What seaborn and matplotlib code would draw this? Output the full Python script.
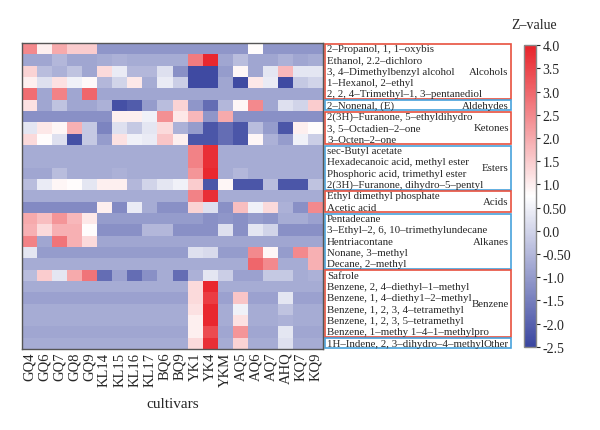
import numpy as np
import pandas as pd
import matplotlib
matplotlib.use("Agg")
import matplotlib.pyplot as plt
import matplotlib.transforms as mtransforms
from matplotlib.colors import LinearSegmentedColormap
from matplotlib.patches import Rectangle
import seaborn as sns

sns.set_style("white")
plt.rcParams["font.family"] = ["Liberation Serif", "DejaVu Serif"]

cultivars = ["GQ4", "GQ6", "GQ7", "GQ8", "GQ9", "KL14", "KL15", "KL16", "KL17", "BQ6",
             "BQ9", "YK1", "YK4", "YKM", "AQ5", "AQ6", "AQ7", "AHQ", "KQ7", "KQ9"]

compounds = [
    "2\u2013Propanol, 1, 1\u2013oxybis",
    "Ethanol, 2.2\u2013dichloro",
    "3, 4\u2013Dimethylbenzyl alcohol",
    "1\u2013Hexanol, 2\u2013ethyl",
    "2, 2, 4\u2013Trimethyl\u20131, 3\u2013pentanediol",
    "2\u2013Nonenal, (E)",
    "2(3H)\u2013Furanone, 5\u2013ethyldihydro",
    "3, 5\u2013Octadien\u20132\u2013one",
    "3\u2013Octen\u20132\u2013one",
    "sec-Butyl acetate",
    "Hexadecanoic acid, methyl ester",
    "Phosphoric acid, trimethyl ester",
    "2(3H)\u2013Furanone, dihydro\u20135\u2013pentyl",
    "Ethyl dimethyl phosphate",
    "Acetic acid",
    "Pentadecane",
    "3\u2013Ethyl\u20132, 6, 10\u2013trimethylundecane",
    "Hentriacontane",
    "Nonane, 3\u2013methyl",
    "Decane, 2\u2013methyl",
    "Safrole",
    "Benzene, 2, 4\u2013diethyl\u20131\u2013methyl",
    "Benzene, 1, 4\u2013diethy1\u20132\u2013methyl",
    "Benzene, 1, 2, 3, 4\u2013tetramethyl",
    "Benzene, 1, 2, 3, 5\u2013tetramethyl",
    "Benzene, 1\u2013methy 1\u20134\u20131\u2013methylpro",
    "1H\u2013Indene, 2, 3\u2013dihydro\u20134\u2013methyl",
]

# (class name, number of rows, box colour)
groups = [("Alcohols", 5, "red"), ("Aldehydes", 1, "blue"), ("Ketones", 3, "red"),
          ("Esters", 4, "blue"), ("Acids", 2, "red"), ("Alkanes", 5, "blue"),
          ("Benzene", 6, "red"), ("Other", 1, "blue")]

z_values = [
    [2.5, 1.0, 2.0, 1.5, 1.5, -1.1, -1.1, -1.1, -1.1, -1.1, -1.1, -1.1, -1.1, -1.1, -1.1, 0.8, -1.1, -1.1, -1.1, -1.1],
    [-0.8, -0.8, -0.5, -0.8, -0.8, -0.7, -0.6, -0.7, -0.7, -0.7, -0.7, 2.7, 3.9, -0.8, -0.4, -0.8, -0.8, -0.6, -0.8, -0.7],
    [1.4, -0.4, -0.6, -0.3, -0.8, 1.3, 0.4, -0.5, -0.5, 0.2, -1.2, -2.4, -2.4, -1.0, 0.9, -0.8, 0.3, 1.8, 0.3, 0.3],
    [1.0, 0.2, 1.2, 0.5, 0.85, -0.5, 0.0, 1.1, -0.7, 0.4, -0.1, -2.4, -2.4, -0.8, -2.4, 1.1, 0.4, -2.4, -0.2, 0.0],
    [2.9, -0.8, 2.6, -0.8, 3.0, -0.8, -0.8, -0.8, -0.8, -0.8, -0.8, -0.8, -0.8, -0.8, -0.8, -0.8, -0.8, -0.8, -0.8, -0.8],
    [1.2, -0.8, -0.3, -0.8, -0.8, -0.6, -2.3, -2.1, -1.0, -0.4, 1.4, -1.1, -1.8, -0.5, 0.9, 2.5, -0.8, 0.2, 0.0, 1.5],
    [-1.2, -1.2, -1.2, -1.2, -1.2, -1.2, 1.0, 1.0, 0.5, 2.4, 1.1, 1.8, -1.1, 2.0, -1.2, -1.2, -1.2, -1.2, -1.2, -1.2],
    [0.3, 1.1, 0.9, 1.9, -0.2, -1.4, 0.2, -0.2, 0.3, 1.3, -0.6, -1.0, -2.2, -1.8, -2.2, -0.4, -1.0, -2.2, 1.0, 0.8],
    [1.3, 0.8, 0.2, -2.3, -0.2, -1.0, 1.2, 0.5, 0.4, 1.6, 1.0, -2.2, -2.2, -1.8, -2.2, 0.9, -0.6, -1.0, 0.5, -0.1],
    [-0.7, -0.7, -0.7, -0.7, -0.7, -0.7, -0.7, -0.7, -0.7, -0.7, -0.7, 2.6, 3.8, -0.7, -0.7, -0.7, -0.7, -0.7, -0.7, -0.7],
    [-0.7, -0.7, -0.7, -0.7, -0.7, -0.7, -0.7, -0.7, -0.7, -0.7, -0.7, 2.6, 3.8, -0.7, -0.7, -0.7, -0.7, -0.7, -0.7, -0.7],
    [-0.8, -0.8, -0.4, -0.7, -0.7, -0.7, -0.6, -0.7, -0.7, -0.7, -0.7, 2.3, 3.9, -0.7, -0.5, -0.7, -0.7, -0.7, -0.7, -0.7],
    [-0.4, 0.4, 0.9, 0.8, 0.3, 1.0, 1.0, -0.5, 0.0, 0.3, 0.5, 1.5, -2.2, 0.9, -2.2, -2.2, -0.4, -2.2, -2.2, -0.3],
    [-0.7, -0.7, -0.7, -0.7, -0.7, -0.7, -0.7, -0.7, -0.7, -0.7, -0.7, 2.6, 3.8, -0.7, -0.7, -0.7, -0.7, -0.7, -0.7, -0.7],
    [-1.3, -1.3, -1.3, -1.3, -1.3, 1.0, -1.3, 0.4, -0.7, -1.2, -1.2, 1.4, 0.2, -1.2, 1.7, 0.5, 1.3, -0.6, -1.2, 2.5],
    [2.0, 1.7, 2.3, 1.8, 1.1, -1.0, -1.0, -1.0, -1.0, -1.0, -1.0, -1.0, -1.2, -1.1, -1.2, -1.0, -1.1, -0.7, -0.7, -0.9],
    [1.9, 1.3, 1.9, 1.9, 0.8, -1.2, -1.2, -1.2, -0.5, -0.5, -1.2, -1.2, -1.2, 0.2, -1.2, 0.3, 0.0, -1.2, -1.2, -1.2],
    [2.6, -0.8, 2.8, 1.9, 1.3, -0.8, -0.8, -0.8, -0.8, -0.8, -0.8, -0.8, -0.8, -0.8, -0.8, -0.8, -0.8, -0.8, -0.8, -0.8],
    [0.3, -1.0, -1.0, -1.0, -1.0, -1.0, -1.0, -1.0, -1.0, -1.0, -1.0, 0.2, 0.1, -1.0, -1.0, 2.5, 0.9, -1.0, 2.5, 1.9],
    [-0.7, -0.7, -0.7, -0.7, -0.7, -0.7, -0.7, -0.7, -0.7, -0.7, -0.7, -0.7, -0.7, -0.7, -0.7, 3.0, 2.5, -0.7, -0.7, 1.9],
    [-0.4, 1.5, 0.3, 2.0, 2.8, -1.8, -0.9, -1.8, -1.2, -0.7, -1.8, -0.6, 0.3, -0.1, -0.9, -0.9, -0.2, -0.2, -0.7, -0.6],
    [-0.7, -0.7, -0.7, -0.7, -0.7, -0.7, -0.7, -0.7, -0.7, -0.7, -0.7, 1.3, 3.9, -0.7, -0.7, -0.7, -0.7, -0.7, -0.7, -0.7],
    [-0.9, -0.9, -0.9, -0.9, -0.9, -0.9, -0.9, -0.9, -0.9, -0.9, -0.9, 1.3, 3.6, -0.9, 1.6, -0.9, -0.9, 0.3, -0.9, -0.9],
    [-0.7, -0.7, -0.7, -0.7, -0.7, -0.7, -0.7, -0.7, -0.7, -0.7, -0.7, 1.2, 3.9, -0.7, 0.5, -0.7, -0.7, -0.3, -0.7, -0.7],
    [-0.7, -0.7, -0.7, -0.7, -0.7, -0.7, -0.7, -0.7, -0.7, -0.7, -0.7, 1.0, 3.9, -0.7, 1.2, -0.7, -0.7, -0.6, -0.7, -0.7],
    [-0.8, -0.8, -0.8, -0.8, -0.8, -0.8, -0.8, -0.8, -0.8, -0.8, -0.8, 1.0, 3.4, -0.8, 2.3, -0.8, -0.8, 0.3, -0.8, -0.8],
    [-0.7, -0.7, -0.7, -0.7, -0.7, -0.7, -0.7, -0.7, -0.7, -0.7, -0.7, 1.3, 3.8, -0.7, 1.4, -0.7, -0.7, 0.2, -0.7, -0.7],
]

cbar_ticks = [4.0, 3.5, 3.0, 2.5, 2.0, 1.5, 1.0, 0.5, 0.0, -0.5, -1.0, -1.5, -2.0, -2.5]
cbar_labels = ["4.0", "3.5", "3.0", "2.5", "2.0", "1.5", "1.0", "0.50", "0.0",
               "-0.50", "-1.0", "-1.5", "-2.0", "-2.5"]

df = pd.DataFrame(z_values, index=compounds, columns=cultivars)
cmap = LinearSegmentedColormap.from_list("zc", ["#3a46a0", "#ffffff", "#e8232a"])
box_colors = {"red": "#e8503e", "blue": "#48a2dc"}

fig = plt.figure(figsize=(6, 4.31), dpi=100)
ax = fig.add_axes([0.036, 0.188, 0.503, 0.71])
cax = fig.add_axes([0.873, 0.193, 0.02, 0.70])

sns.heatmap(df, ax=ax, cmap=cmap, vmin=-2.5, vmax=4.0, cbar_ax=cax,
            yticklabels=False, xticklabels=True)
for s in ax.spines.values():
    s.set_visible(True)
    s.set_color("#555555")
    s.set_linewidth(1.0)
ax.tick_params(axis="x", length=0, pad=2, labelsize=10.5, rotation=90)
ax.set_xlabel("cultivars", fontsize=11, labelpad=8)
ax.set_ylabel("")

# compound names and class boxes to the right of the heatmap
trans = mtransforms.blended_transform_factory(ax.transAxes, ax.transData)
for i, name in enumerate(compounds):
    ax.text(1.012, i + 0.5, name, transform=trans, fontsize=7.8,
            ha="left", va="center", clip_on=False)
start = 0
for label, n, col in groups:
    rect = Rectangle((1.006, start + 0.06), 0.616, n - 0.12, transform=trans,
                     fill=False, edgecolor=box_colors[col], linewidth=1.2, clip_on=False)
    ax.add_patch(rect)
    ax.text(1.614, start + n / 2, label, transform=trans, fontsize=7.8,
            ha="right", va="center", clip_on=False)
    start += n

cb = ax.collections[0].colorbar
cb.set_ticks(cbar_ticks)
cb.set_ticklabels(cbar_labels)
cb.ax.tick_params(labelsize=10, length=3, width=0.8, pad=2)
cb.outline.set_edgecolor("#888888")
cb.outline.set_linewidth(1.0)
fig.text(0.852, 0.925, "Z\u2013value", fontsize=10, ha="left", va="bottom")

fig.savefig("out.png", dpi=100)
